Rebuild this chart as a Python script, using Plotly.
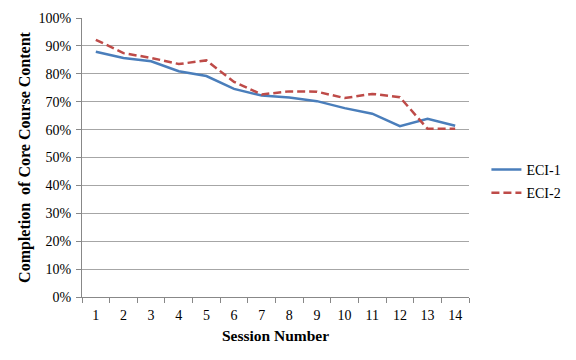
import plotly.graph_objects as go

sessions = [str(i) for i in range(1, 15)]
eci1 = [0.879, 0.857, 0.845, 0.809, 0.792, 0.746, 0.722, 0.715, 0.702, 0.677, 0.657, 0.612, 0.639, 0.614]
eci2 = [0.922, 0.874, 0.857, 0.835, 0.848, 0.771, 0.726, 0.737, 0.736, 0.713, 0.728, 0.716, 0.603, 0.603]
yticks = [i / 10 for i in range(0, 11)]
ytick_text = [f"{i*10}%" for i in range(0, 11)]

serif = "Liberation Serif, Times New Roman, serif"
fig = go.Figure()
fig.add_trace(go.Scatter(x=sessions, y=eci1, mode="lines", name="ECI-1", legendgroup="a",
                         line=dict(color="#4a7ebb", width=2.5)))
fig.add_trace(go.Scatter(x=sessions, y=eci2, mode="lines", name="ECI-2", legendgroup="b",
                         line=dict(color="#be4b48", width=2.5, dash="8px,4px")))

# page body has an 8px default margin, so the figure is sized/offset to compensate
fig.update_layout(
    width=568, height=352,
    margin=dict(l=74, r=104, t=10, b=63),
    paper_bgcolor="white", plot_bgcolor="white",
    font=dict(family=serif, size=14, color="black"),
    legend=dict(x=1.045, y=0.414, xanchor="left", yanchor="middle",
                font=dict(family=serif, size=14), itemwidth=30,
                tracegroupgap=2, borderwidth=0, bgcolor="rgba(0,0,0,0)"),
    xaxis=dict(
        type="category", range=[-0.5, 13.5], automargin=False,
        showline=True, linecolor="#888888", linewidth=1,
        ticks="outside", tickson="boundaries", ticklen=5, tickcolor="#888888",
        showgrid=False, tickfont=dict(family=serif, size=14), ticklabelstandoff=5,
        title=dict(text="<b>Session Number</b>", font=dict(family=serif, size=15.5), standoff=8),
    ),
    yaxis=dict(
        range=[0, 1.0], tickvals=yticks, ticktext=ytick_text, automargin=False,
        showline=True, linecolor="#888888", linewidth=1,
        ticks="outside", ticklen=5, tickcolor="#888888",
        showgrid=True, gridcolor="#a6a6a6", gridwidth=1,
        tickfont=dict(family=serif, size=14), zeroline=False, ticklabelstandoff=2,
        title=dict(text="<b>Completion  of Core Course Content</b>", font=dict(family=serif, size=16), standoff=3),
    ),
)

fig.write_html("out.html")
